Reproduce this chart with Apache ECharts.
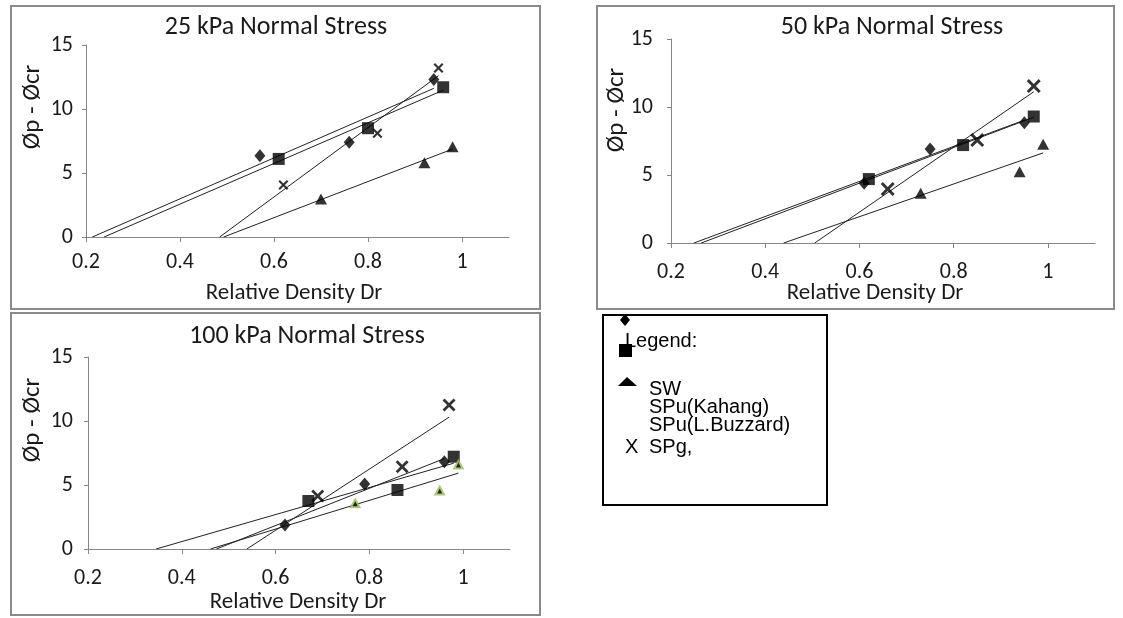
<!DOCTYPE html>
<html><head><meta charset="utf-8">
<script src="https://cdn.jsdelivr.net/npm/echarts@6/dist/echarts.min.js"></script>
<style>html,body{margin:0;padding:0;background:#fff}#c{width:1123px;height:618px}</style>
</head><body><div id="c"></div>
<script>
// ---- data ----
const panelTitles = ['25 kPa Normal Stress', '50 kPa Normal Stress', '100 kPa Normal Stress'];
const seriesNames = ['SW', 'SPu(Kahang)', 'SPu(L.Buzzard)', 'SPg,'];
const xTickValues = [0.2, 0.4, 0.6, 0.8, 1];
const yTickValues = [0, 5, 10, 15];
const xAxisTitle = 'Relative Density Dr';
const yAxisTitle = 'Øp - Øcr';

// 25 kPa
const sw25 = [[0.57, 6.35], [0.76, 7.4], [0.94, 12.3]];
const kahang25 = [[0.61, 6.1], [0.80, 8.5], [0.96, 11.7]];
const buzzard25 = [[0.70, 2.97], [0.92, 5.8], [0.98, 7.05]];
const spg25 = [[0.62, 4.06], [0.82, 8.1], [0.95, 13.2]];
// 50 kPa
const sw50 = [[0.61, 4.39], [0.75, 6.91], [0.95, 8.85]];
const kahang50 = [[0.62, 4.7], [0.82, 7.2], [0.97, 9.3]];
const buzzard50 = [[0.73, 3.65], [0.94, 5.24], [0.99, 7.26]];
const spg50 = [[0.66, 3.97], [0.85, 7.57], [0.97, 11.54]];
// 100 kPa
const sw100 = [[0.62, 1.88], [0.79, 5.08], [0.96, 6.82]];
const kahang100 = [[0.67, 3.75], [0.86, 4.61], [0.98, 7.21]];
const buzzard100 = [[0.77, 3.62], [0.95, 4.61], [0.99, 6.64]];
const spg100 = [[0.69, 4.14], [0.87, 6.43], [0.97, 11.25]];

const panelData = [
  [sw25, kahang25, buzzard25, spg25],
  [sw50, kahang50, buzzard50, spg50],
  [sw100, kahang100, buzzard100, spg100]
];

// ---- layout / style ----
const FONT = 'Carlito, Lato, sans-serif';
const TICK_FS = 22;
const grids = [
  { left: 86, top: 45, width: 423, height: 192 },
  { left: 671, top: 39, width: 424, height: 204 },
  { left: 88, top: 357, width: 422, height: 192 }
];
const labelMargins = [[13, 14], [18, 18], [15, 18]]; // [y, x]
const xSizes = [10, 14, 13];
const AXIS_COLOR = '#868686';
const TEXT_COLOR = '#1a1a1a';
const X_PATH = 'path://M0,1.5L1.5,0L5,3.5L8.5,0L10,1.5L6.5,5L10,8.5L8.5,10L5,6.5L1.5,10L0,8.5L3.5,5Z';

// linear trend line (least squares), extended back to y = 0
function trend(points) {
  const n = points.length;
  let sx = 0, sy = 0;
  points.forEach(p => { sx += p[0]; sy += p[1]; });
  const mx = sx / n, my = sy / n;
  let sxx = 0, sxy = 0;
  points.forEach(p => { sxx += (p[0] - mx) ** 2; sxy += (p[0] - mx) * (p[1] - my); });
  const b = sxy / sxx, a = my - b * mx;
  const xmax = Math.max(...points.map(p => p[0]));
  return [[-a / b, 0], [xmax, a + b * xmax]];
}

const xAxes = [], yAxes = [], series = [];
grids.forEach((g, i) => {
  xAxes.push({
    type: 'value', gridIndex: i, min: 0.2, max: 1.1, interval: 0.2,
    axisLine: { show: true, onZero: false, lineStyle: { color: AXIS_COLOR, width: 1 } },
    axisTick: { show: true, length: 5, lineStyle: { color: AXIS_COLOR }, customValues: xTickValues },
    splitLine: { show: false },
    axisLabel: {
      customValues: xTickValues,
      margin: labelMargins[i][1], color: TEXT_COLOR, fontSize: TICK_FS, fontFamily: FONT,
      formatter: v => (v > 1.05 ? '' : String(+v.toFixed(1)))
    }
  });
  yAxes.push({
    type: 'value', gridIndex: i, min: 0, max: 15, interval: 5,
    axisLine: { show: true, lineStyle: { color: AXIS_COLOR, width: 1 } },
    axisTick: { show: true, length: 4, lineStyle: { color: AXIS_COLOR } },
    splitLine: { show: false },
    axisLabel: { margin: labelMargins[i][0], color: TEXT_COLOR, fontSize: TICK_FS, fontFamily: FONT }
  });
  const [sw, kah, buz, spg] = panelData[i];
  // trend lines
  [sw, kah, buz, spg].forEach((d, k) => {
    series.push({
      type: 'line', xAxisIndex: i, yAxisIndex: i, name: seriesNames[k] + ' trend',
      data: trend(d), symbol: 'none', silent: true, clip: true,
      lineStyle: { color: '#222', width: 1 }, z: 2
    });
  });
  series.push({ type: 'scatter', xAxisIndex: i, yAxisIndex: i, name: seriesNames[0], data: sw,
    symbol: 'diamond', symbolSize: [11, 13], itemStyle: { color: '#000' }, z: 3 });
  series.push({ type: 'scatter', xAxisIndex: i, yAxisIndex: i, name: seriesNames[1], data: kah,
    symbol: 'rect', symbolSize: 12, itemStyle: { color: '#000' }, z: 3 });
  if (i === 2) {
    series.push({ type: 'scatter', xAxisIndex: i, yAxisIndex: i, name: seriesNames[2], data: buz,
      symbol: 'triangle', symbolSize: [12, 11], itemStyle: { color: '#9bbb59' }, z: 3 });
    series.push({ type: 'scatter', xAxisIndex: i, yAxisIndex: i, name: seriesNames[2] + ' inner', data: buz,
      symbol: 'triangle', symbolSize: [5, 5], symbolOffset: [0, 1], itemStyle: { color: '#000' }, z: 4, silent: true });
  } else {
    series.push({ type: 'scatter', xAxisIndex: i, yAxisIndex: i, name: seriesNames[2], data: buz,
      symbol: 'triangle', symbolSize: [12, 11], itemStyle: { color: '#000' }, z: 3 });
  }
  series.push({ type: 'scatter', xAxisIndex: i, yAxisIndex: i, name: seriesNames[3], data: spg,
    symbol: X_PATH, symbolSize: xSizes[i], itemStyle: { color: '#000' }, z: 3 });
});

// panel frames and texts
const frames = [
  { x: 11, y: 6, w: 529, h: 303 },
  { x: 597, y: 6, w: 517, h: 303 },
  { x: 11, y: 313, w: 529, h: 302 }
];
const titlePos = [[276, 27], [892, 27], [307, 336]];
const xTitlePos = [[294, 293], [875, 293], [298, 602]];
const yTitlePos = [[33, 107], [617, 110], [33, 420]];

const graphic = [];
frames.forEach((f, i) => {
  graphic.push({ type: 'rect', shape: { x: f.x, y: f.y, width: f.w, height: f.h },
    style: { fill: 'none', stroke: '#8a8a8a', lineWidth: 2 }, z: 0, silent: true });
  graphic.push({ type: 'text', x: titlePos[i][0], y: titlePos[i][1],
    style: { text: panelTitles[i], fill: TEXT_COLOR, font: '26px ' + FONT, align: 'center', verticalAlign: 'middle' } });
  graphic.push({ type: 'text', x: xTitlePos[i][0], y: xTitlePos[i][1],
    style: { text: xAxisTitle, fill: TEXT_COLOR, font: '23px ' + FONT, align: 'center', verticalAlign: 'middle' } });
  graphic.push({ type: 'text', x: yTitlePos[i][0], y: yTitlePos[i][1], rotation: Math.PI / 2,
    style: { text: yAxisTitle, fill: TEXT_COLOR, font: '25px ' + FONT, align: 'center', verticalAlign: 'middle' } });
});

// legend box (drawn as in the original figure)
const LEG_FONT = '20px "Liberation Sans", Arial, sans-serif';
graphic.push({ type: 'rect', shape: { x: 603, y: 315, width: 224, height: 190 },
  style: { fill: '#fff', stroke: '#000', lineWidth: 2 }, z: 5, silent: true });
graphic.push({ type: 'polygon', shape: { points: [[625, 314], [630, 320], [625, 326], [620, 320]] },
  style: { fill: '#000' }, z: 7 });
graphic.push({ type: 'text', x: 625, y: 341, z: 6,
  style: { text: 'Legend:', fill: '#000', font: LEG_FONT, align: 'left', verticalAlign: 'middle' } });
graphic.push({ type: 'rect', shape: { x: 619, y: 344, width: 13, height: 13 }, style: { fill: '#000' }, z: 7 });
graphic.push({ type: 'polygon', shape: { points: [[627, 377], [637, 386], [618, 386]] }, style: { fill: '#000' }, z: 7 });
const legendRows = [[seriesNames[0], 389], [seriesNames[1], 407], [seriesNames[2], 425], [seriesNames[3], 447]];
legendRows.forEach(r => {
  graphic.push({ type: 'text', x: 649, y: r[1], z: 6,
    style: { text: r[0], fill: '#000', font: LEG_FONT, align: 'left', verticalAlign: 'middle' } });
});
graphic.push({ type: 'text', x: 625, y: 447, z: 6,
  style: { text: 'X', fill: '#000', font: LEG_FONT, align: 'left', verticalAlign: 'middle' } });

const chart = echarts.init(document.getElementById('c'), null, { renderer: 'canvas' });
chart.setOption({
  backgroundColor: '#fff',
  animation: false,
  grid: grids.map(g => Object.assign({ containLabel: false }, g)),
  xAxis: xAxes,
  yAxis: yAxes,
  series: series,
  graphic: graphic
});
</script></body></html>
